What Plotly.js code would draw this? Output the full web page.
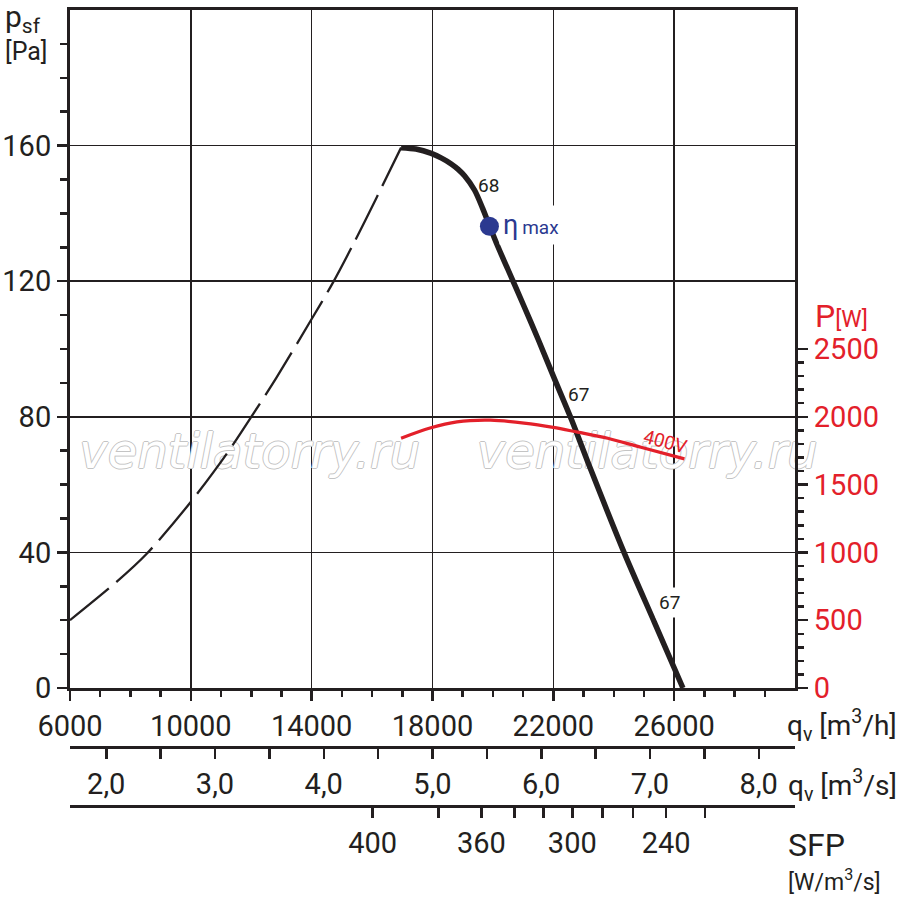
<!DOCTYPE html>
<html>
<head>
<meta charset="utf-8">
<script src="https://cdn.plot.ly/plotly-3.0.1.min.js"></script>
<style>html,body{margin:0;padding:0;background:#fff;}#chart{width:900px;height:908px;}</style>
</head>
<body>
<div id="chart"></div>
<script>
// ---- data ----
// dashed (unstable) part of the pressure curve: flow m3/h, static pressure Pa
const dashQ = [6000, 7540, 8540, 9990, 11180, 12060, 12830, 13990, 14700, 15370, 16140, 16960];
const dashP = [20, 31.3, 39.6, 54.8, 69.0, 80.8, 91.5, 108.7, 119.5, 130.8, 144.5, 159.4];
// working part of the pressure curve
const workQ = [16960, 17450, 17960, 18300, 18620, 18850, 19060, 19390, 19660, 19880, 20160, 20490, 21000, 21500, 22000, 22600, 23250, 24350, 25350, 26290];
const workP = [159.4, 159.0, 157.7, 156.3, 154.6, 153.0, 151.1, 146.9, 141.5, 136.5, 130.3, 123.6, 113.2, 102.8, 92.0, 79.2, 64.2, 39.8, 19.3, 0];
// power input curve 400V (W)
const powQ = [16960, 17920, 18810, 19920, 21030, 22000, 22800, 23800, 24900, 26340];
const powW = [1842, 1917, 1963, 1975, 1954, 1922, 1887, 1842, 1775, 1690];
// max efficiency point
const etaQ = [19885];
const etaP = [136.2];
// efficiency labels along the curve
const effLabels = ['68', '67', '67'];
const effQ = [19870, 22830, 25830];
const effP = [148.3, 86.5, 25.3];

// axes
const qhTicks = [6000, 10000, 14000, 18000, 22000, 26000];
const qhMinor = [7000,8000,9000,11000,12000,13000,15000,16000,17000,19000,20000,21000,23000,24000,25000,27000,28000,29000];
const pTicks = [0, 40, 80, 120, 160];
const pMinor = [10,20,30,50,60,70,90,100,110,130,140,150,170,180,190];
const wTicks = [0, 500, 1000, 1500, 2000, 2500];
const wMinor = [100,200,300,400,600,700,800,900,1100,1200,1300,1400,1600,1700,1800,1900,2100,2200,2300,2400];
const qsTicks = [2.0, 3.0, 4.0, 5.0, 6.0, 7.0, 8.0];
const qsLabels = ['2,0', '3,0', '4,0', '5,0', '6,0', '7,0', '8,0'];
const qsHalf = [2.5, 3.5, 4.5, 5.5, 6.5, 7.5];
const sfpValues = [400, 380, 360, 340, 320, 300, 280, 260, 240, 220];
const sfpFlows = [16017, 18198, 19620, 20711, 21669, 22628, 23620, 24645, 25736, 27025];
const sfpShown = [400, 360, 300, 240];

// watermark
const wmText = ['ventilatorry.ru', 'ventilatorry.ru'];
const wmQ = [11950, 25110];
const wmP = [68.4, 68.4];

// ---- styling ----
const INK = '#231f20';
const RED = '#e3202a';
const BLUE = '#2b3990';
const FONT = 'Roboto, "Open Sans", "Liberation Sans", sans-serif';

const L = 70, R = 795, T = 10, B = 828;           // paper box in px
const px = v => (v - L) / (R - L);
const py = v => (B - v) / (B - T);
const plotBottom = 688;

function ann(text, xpx, ypx, size, color, extra) {
  return Object.assign({
    xref: 'paper', yref: 'paper', x: px(xpx), y: py(ypx),
    xanchor: 'left', yanchor: 'middle', showarrow: false, text: text,
    font: {family: FONT, size: size, color: color}
  }, extra || {});
}

const sfpLabeledFlows = sfpFlows.filter((q, i) => sfpShown.includes(sfpValues[i]));
const sfpLabeledText = sfpValues.filter(v => sfpShown.includes(v)).map(String);
const sfpOtherFlows = sfpFlows.filter((q, i) => !sfpShown.includes(sfpValues[i]));

const traces = [
  {
    x: wmQ, y: wmP, text: wmText, mode: 'text', type: 'scatter',
    textposition: 'middle center', cliponaxis: false, hoverinfo: 'skip',
    textfont: {family: '"DejaVu Sans", sans-serif', size: 48, style: 'italic', color: '#ffffff',
      shadow: '1px 0 0 #c4c4c4, -1px 0 0 #c4c4c4, 0 1px 0 #c4c4c4, 0 -1px 0 #c4c4c4'}
  },
  {
    x: dashQ, y: dashP, mode: 'lines', type: 'scatter', hoverinfo: 'skip',
    line: {color: INK, width: 2.3, dash: '50px,10px', shape: 'spline', smoothing: 0.8}
  },
  {
    x: workQ, y: workP, mode: 'lines', type: 'scatter', hoverinfo: 'skip',
    line: {color: INK, width: 5.5, shape: 'spline', smoothing: 0.8}
  },
  {
    x: powQ, y: powW, yaxis: 'y2', mode: 'lines', type: 'scatter', hoverinfo: 'skip',
    line: {color: RED, width: 3.2, shape: 'spline', smoothing: 0.9}
  },
  {
    x: etaQ, y: etaP, mode: 'markers', type: 'scatter', hoverinfo: 'skip',
    marker: {color: BLUE, size: 19, line: {width: 0}}
  },
  // invisible carriers so the secondary flow axes (m3/s and SFP) get drawn
  {
    x: [qsTicks[0]], y: [pTicks[0]], xaxis: 'x2', yaxis: 'y', mode: 'markers', hoverinfo: 'skip',
    marker: {opacity: 0, size: 1}
  },
  {
    x: [sfpFlows[0]], y: [pTicks[0]], xaxis: 'x3', yaxis: 'y', mode: 'markers', hoverinfo: 'skip',
    marker: {opacity: 0, size: 1}
  }
];

const tickFont = {family: FONT, size: 29, color: INK};

const layout = {
  width: 900, height: 908,
  margin: {l: L, r: 900 - R, t: T, b: 908 - B, pad: 0},
  paper_bgcolor: '#ffffff', plot_bgcolor: '#ffffff',
  showlegend: false,
  xaxis: {
    range: [6000, 30000], domain: [0, 1], anchor: 'y',
    tickmode: 'array', tickvals: qhTicks, ticktext: qhTicks.map(String),
    ticks: 'outside', ticklen: 10, tickwidth: 2.5, tickcolor: INK,
    showline: true, linewidth: 3, linecolor: INK, mirror: true,
    showgrid: true, gridcolor: INK, gridwidth: 1.5, zeroline: false,
    tickfont: tickFont, ticklabelstandoff: 0,
    minor: {tickmode: 'array', tickvals: qhMinor, ticks: 'outside', ticklen: 6, tickwidth: 2.5, tickcolor: INK, showgrid: false}
  },
  xaxis2: {
    overlaying: 'x', anchor: 'free', position: py(747), side: 'bottom',
    range: [6000 / 3600, 30000 / 3600],
    tickmode: 'array', tickvals: qsTicks, ticktext: qsLabels,
    ticks: 'outside', ticklen: 10, tickwidth: 2.5, tickcolor: INK,
    showline: true, linewidth: 3, linecolor: INK,
    showgrid: false, zeroline: false, tickfont: tickFont, ticklabelstandoff: 0,
    minor: {tickmode: 'array', tickvals: qsHalf, ticks: 'outside', ticklen: 10, tickwidth: 2.5, tickcolor: INK, showgrid: false}
  },
  xaxis3: {
    overlaying: 'x', anchor: 'free', position: py(806), side: 'bottom',
    range: [6000, 30000],
    tickmode: 'array', tickvals: sfpLabeledFlows, ticktext: sfpLabeledText,
    ticks: 'outside', ticklen: 10, tickwidth: 2.5, tickcolor: INK,
    showline: true, linewidth: 3, linecolor: INK,
    showgrid: false, zeroline: false, tickfont: tickFont, ticklabelstandoff: 0,
    minor: {tickmode: 'array', tickvals: sfpOtherFlows, ticks: 'outside', ticklen: 10, tickwidth: 2.5, tickcolor: INK, showgrid: false}
  },
  yaxis: {
    range: [0, 200], domain: [py(plotBottom), 1], anchor: 'x',
    tickmode: 'array', tickvals: pTicks, ticktext: pTicks.map(String),
    ticks: 'outside', ticklen: 10, tickwidth: 2.5, tickcolor: INK,
    showline: true, linewidth: 3, linecolor: INK, mirror: true,
    showgrid: true, gridcolor: INK, gridwidth: 1.5, zeroline: false,
    tickfont: tickFont, ticklabelstandoff: 0,
    minor: {tickmode: 'array', tickvals: pMinor, ticks: 'outside', ticklen: 7, tickwidth: 2.5, tickcolor: INK, showgrid: false}
  },
  yaxis2: {
    overlaying: 'y', side: 'right', anchor: 'x', range: [0, 5000],
    tickmode: 'array', tickvals: wTicks, ticktext: wTicks.map(String),
    ticks: 'outside', ticklen: 12, tickwidth: 2.5, tickcolor: INK,
    showline: false, showgrid: false, zeroline: false,
    tickfont: {family: FONT, size: 29, color: RED}, ticklabelstandoff: 0,
    minor: {tickmode: 'array', tickvals: wMinor, ticks: 'outside', ticklen: 8, tickwidth: 2.5, tickcolor: INK, showgrid: false}
  },
  annotations: [
    ann('p<sub>sf</sub>', 3, 19, 30, INK),
    ann('[Pa]', 3, 51, 25, INK),
    ann('P<span style="font-size:23px">[W]</span>', 813, 316, 32, RED),
    ann('q<sub>v</sub> [m<sup>3</sup>/h]', 785, 725, 28, INK),
    ann('q<sub>v</sub> [m<sup>3</sup>/s]', 786, 785, 28, INK),
    ann('SFP', 786, 845, 32, INK),
    ann('[W/m<sup>3</sup>/s]', 786, 880, 23, INK),
    {xref: 'x', yref: 'y', x: effQ[0], y: effP[0], text: effLabels[0], showarrow: false,
      font: {family: FONT, size: 19, color: INK}},
    {xref: 'x', yref: 'y', x: effQ[1], y: effP[1], text: effLabels[1], showarrow: false,
      font: {family: FONT, size: 19, color: INK}},
    {xref: 'x', yref: 'y', x: effQ[2], y: effP[2], text: effLabels[2], showarrow: false,
      bgcolor: '#ffffff', borderpad: 3, font: {family: FONT, size: 19, color: INK}},
    {xref: 'x', yref: 'y', x: 20200, y: 136.6, xanchor: 'left', text: 'η<span style="font-size:19px">\u2009max</span>',
      showarrow: false, bgcolor: '#ffffff', borderpad: 3, font: {family: FONT, size: 27, color: BLUE}},
    {xref: 'x', yref: 'y', x: 25680, y: 72.6, text: '400V', textangle: 15, showarrow: false,
      font: {family: FONT, size: 19, color: RED}}
  ]
};

Plotly.newPlot('chart', traces, layout, {staticPlot: true, displayModeBar: false});
</script>
</body>
</html>
